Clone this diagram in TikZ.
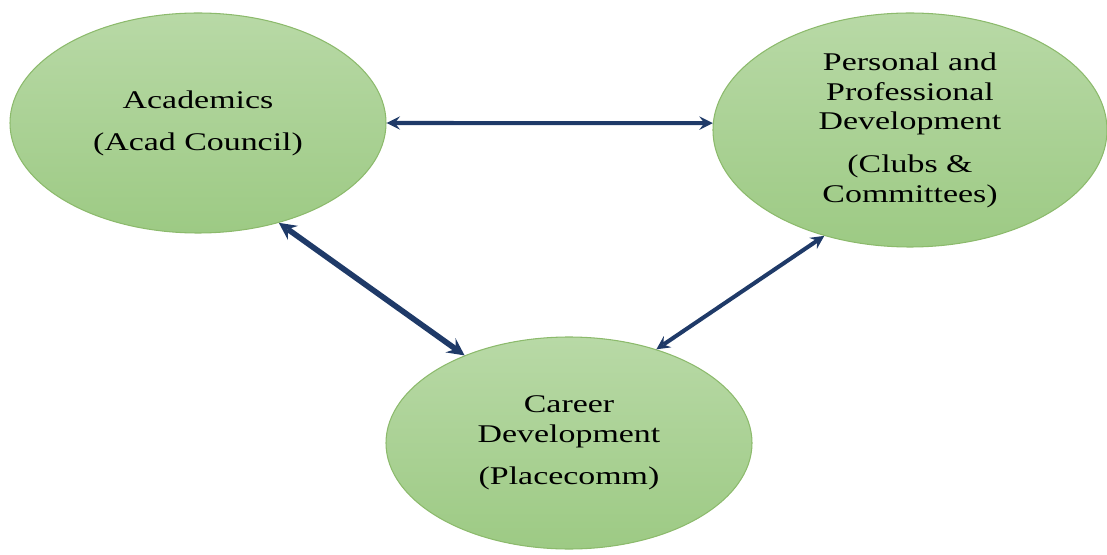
\documentclass[tikz,border=0pt]{standalone}
\usepackage{xcolor}
\usepackage{fontspec}
\setmainfont{Liberation Serif}[FakeStretch=1.33]
\usepackage{tikz}
\usetikzlibrary{positioning,shapes.geometric}
\definecolor{navy}{HTML}{1F3A68}
\definecolor{leaftop}{HTML}{B8D9A6}
\definecolor{leafbot}{HTML}{9DCA84}
\definecolor{leafedge}{HTML}{8CBA6C}

\begin{document}
\begin{tikzpicture}[
  area/.style={ellipse, draw=leafedge, line width=0.6pt, top color=leaftop, bottom color=leafbot,
               inner sep=0pt, align=center, text=black, font=\fontsize{14.5}{17}\selectfont},
  link/.style={<->, >=stealth, color=navy}
]
\useasboundingbox (0,0) rectangle (22.14,11.08);

\node[area, minimum width=7.52cm, minimum height=4.4cm] (acad) at (3.96,8.62)
  {Academics\\[7pt](Acad Council)};
\node[area, minimum width=7.88cm, minimum height=4.68cm] (ppd) at (18.2,8.48)
  {Personal and\\Professional\\Development\\[7pt](Clubs \&\\Committees)};
\node[area, minimum width=7.32cm, minimum height=4.24cm] (career) at (11.38,2.22)
  {Career\\Development\\[7pt](Placecomm)};

\draw[link, line width=2.3pt] (acad.east) -- (ppd.178.25);
\draw[link, line width=3.2pt] (acad.-51) -- (career.140);
\draw[link, line width=2.3pt] (career.47) -- (ppd.231);
\end{tikzpicture}
\end{document}
